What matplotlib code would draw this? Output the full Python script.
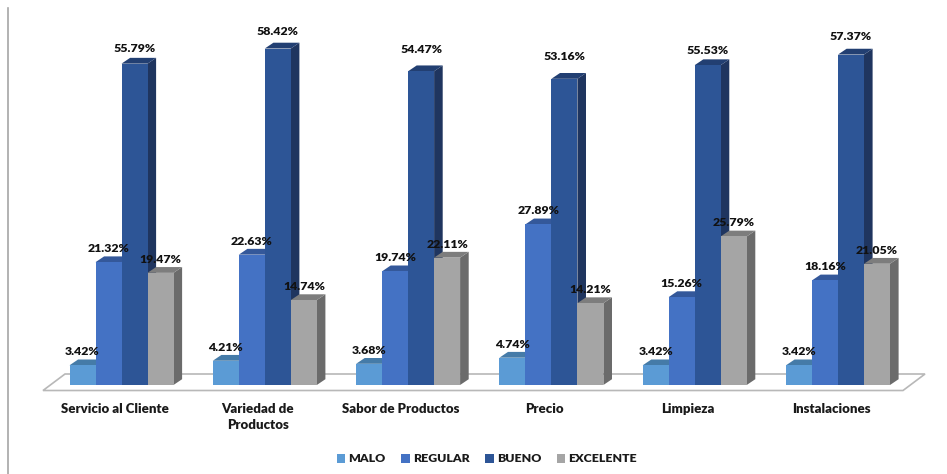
import matplotlib
matplotlib.use('Agg')
import matplotlib.pyplot as plt
from matplotlib.patches import Patch, Polygon

categories = ['Servicio al Cliente', 'Variedad de\nProductos', 'Sabor de Productos',
              'Precio', 'Limpieza', 'Instalaciones']
series_names = ['MALO', 'REGULAR', 'BUENO', 'EXCELENTE']
malo = [3.42, 4.21, 3.68, 4.74, 3.42, 3.42]
regular = [21.32, 22.63, 19.74, 27.89, 15.26, 18.16]
bueno = [55.79, 58.42, 54.47, 53.16, 55.53, 57.37]
excelente = [19.47, 14.74, 22.11, 14.21, 25.79, 21.05]
series = [malo, regular, bueno, excelente]

# label height above each bar, in pixels (the tall bars sit higher)
label_lift = [[13.5] * 6, [13.5] * 6, [15, 17, 22, 22, 15, 18], [13.5] * 6]

front_colors = ['#5b9bd5', '#4472c4', '#2d5596', '#a5a5a5']
top_colors = ['#457ba8', '#34589a', '#223f72', '#7d7d7d']
side_colors = ['#3a6a94', '#2b4a82', '#1f355f', '#6b6b6b']

GROUP_PX = 143.3
Y_PX = 5.76
W, H = 947, 474
X0_PX, Y0_PX = 121.5, 385

fig = plt.figure(figsize=(W / 100, H / 100), dpi=100)
ax = fig.add_axes([0, 0, 1, 1])
ax.set_xlim(-X0_PX / GROUP_PX, (W - X0_PX) / GROUP_PX)
ax.set_ylim(-(H - Y0_PX) / Y_PX, Y0_PX / Y_PX)
ax.axis('off')

bar_w = 26 / GROUP_PX
dx = 8.6 / GROUP_PX
dy = 5.8 / Y_PX
font = 'Lato'
weight = 'heavy'

# floor of the 3D box
floor_x = [-78.5 / GROUP_PX, 781.5 / GROUP_PX, 803.5 / GROUP_PX, -56.5 / GROUP_PX]
floor_y = [-5.5 / Y_PX, -5.5 / Y_PX, 11 / Y_PX, 11 / Y_PX]
ax.add_patch(Polygon(list(zip(floor_x, floor_y)), closed=True, facecolor='white',
                     edgecolor='#b8b8b8', linewidth=1.2, zorder=1))

# left frame line
ax.plot([-113.5 / GROUP_PX] * 2, [-(H - Y0_PX) / Y_PX, (Y0_PX - 8) / Y_PX], color='#a6a6a6',
        linewidth=1.2, zorder=1)

for i, cat in enumerate(categories):
    for j, vals in enumerate(series):
        v = vals[i]
        x = i + (j - 2) * bar_w
        ax.add_patch(Polygon([(x + bar_w, 0), (x + bar_w + dx, dy), (x + bar_w + dx, v + dy), (x + bar_w, v)],
                             facecolor=side_colors[j], edgecolor='none', zorder=2))
        ax.add_patch(Polygon([(x, v), (x + dx, v + dy), (x + bar_w + dx, v + dy), (x + bar_w, v)],
                             facecolor=top_colors[j], edgecolor='none', zorder=2))
        ax.bar(x, v, width=bar_w, align='edge', color=front_colors[j], zorder=2)
        ax.text(x + bar_w / 2, v + label_lift[j][i] / Y_PX, f'{v:.2f}%', ha='center', va='center',
                fontsize=8.9, fontweight=weight, family=font, color='#111111', zorder=5)
    ax.text(i - 7 / GROUP_PX, -(403 - Y0_PX) / Y_PX, cat, ha='center', va='top',
            fontsize=9.5, fontweight=weight, family=font, color='#1a1a1a', linespacing=1.4)

handles = [Patch(facecolor=c, edgecolor='none') for c in front_colors]
ax.legend(handles, series_names, loc='center', bbox_to_anchor=(487 / W, 1 - 459 / H), ncol=4, frameon=False,
          prop={'family': font, 'weight': weight, 'size': 8.9}, handlelength=0.7, handleheight=0.7,
          handletextpad=0.25, columnspacing=1.25, labelcolor='#1a1a1a')

fig.savefig('out.png', dpi=100)
